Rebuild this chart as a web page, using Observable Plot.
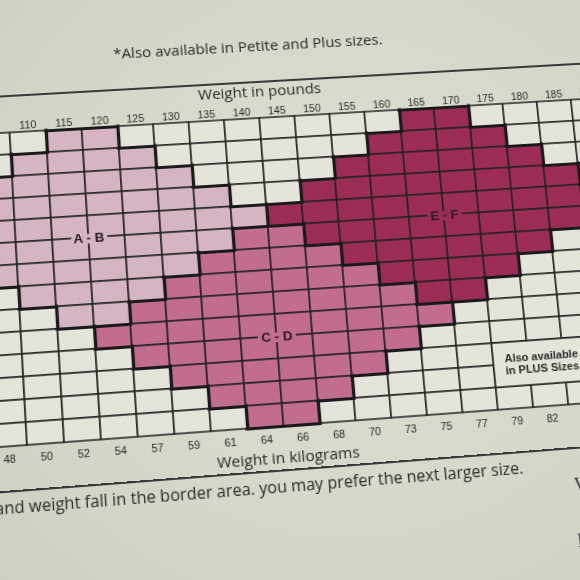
<!DOCTYPE html>
<html>
<head>
<meta charset="utf-8">
<script src="https://cdn.jsdelivr.net/npm/d3@7"></script>
<script src="https://cdn.jsdelivr.net/npm/@observablehq/plot@0.6"></script>
<style>
  html, body { margin: 0; padding: 0; background: #d8d7cb; }
  #stage { position: relative; width: 580px; height: 580px; overflow: hidden;
           background: radial-gradient(ellipse at 60% 45%, #e0dfd4 0%, #d7d6ca 60%, #cfcec2 100%); }
  #page { position: absolute; left: 0; top: 0; width: 700px; height: 600px; transform-origin: 0 0; }
  .txt { position: absolute; white-space: nowrap; color: #2a2a2a; font-family: "Open Sans", sans-serif; }
  .hline { position: absolute; left: -40px; width: 720px; height: 0; border-top: 2px solid #3a3a38; }
  #chart { position: absolute; left: -15px; top: 0; }
  .serif { font-family: "Liberation Serif", serif; color: #333; }
</style>
</head>
<body>
<div id="stage">
  <div id="page">
    <div class="txt" id="topnote" style="left:0;width:520px;text-align:center;top:33px;font-size:15px;line-height:20px;">*Also available in Petite and Plus sizes.</div>
    <div class="hline" style="top:80px;"></div>
    <div id="chart"></div>
    <div class="hline" style="top:468px;"></div>
    <div class="txt" id="caption" style="left:-300px;width:794px;text-align:right;top:473px;font-size:15.6px;line-height:22px;">If your height and weight fall in the border area. you may prefer the next larger size.</div>
    <div class="txt serif" style="left:543px;top:494px;font-size:19px;">W</div>
    <div class="txt serif" style="left:540px;top:548px;font-size:19px;">E</div>
  </div>
</div>
<script>
// ---- data ----
const pounds = [105, 110, 115, 120, 125, 130, 135, 140, 145, 150, 155, 160, 165, 170, 175, 180, 185, 190];
const poundLabels = [110, 115, 120, 125, 130, 135, 140, 145, 150, 155, 160, 165, 170, 175, 180, 185, 190];
const kilograms = [48, 50, 52, 54, 57, 59, 61, 64, 66, 68, 70, 73, 75, 77, 79, 82];
const rows = [1, 2, 3, 4, 5, 6, 7, 8, 9, 10, 11, 12, 13, 14];

const sizeNames = ["A - B", "C - D", "E - F"];
const abWeights = [105, 110, 115, 120, 125, 130, 135, 140];
const abFirst   = [3, 2, 1, 1, 2, 3, 4, 5];
const abLast    = [7, 8, 9, 9, 8, 7, 6, 5];
const cdWeights = [120, 125, 130, 135, 140, 145, 150, 155, 160, 165];
const cdFirst   = [10, 9, 8, 7, 6, 6, 7, 8, 9, 10];
const cdLast    = [10, 11, 12, 13, 14, 14, 13, 12, 11, 10];
const efWeights = [145, 150, 155, 160, 165, 170, 175, 180, 185, 190];
const efFirst   = [5, 4, 3, 2, 1, 1, 2, 3, 4, 5];
const efLast    = [5, 6, 7, 8, 9, 9, 8, 7, 6, 5];

const plusText = "Also available\nin PLUS Sizes";
const plusWeights = [175, 190];
const plusRows = [12, 13];

// ---- styles ----
const colors = {"A - B": "#d5b4c3", "C - D": "#c26d90", "E - F": "#9a2c56", none: "#e4e4da", plus: "#e4e4da"};
const ink = "#222222";

// ---- build cells ----
const sizes = [
  {name: sizeNames[0], weights: abWeights, first: abFirst, last: abLast},
  {name: sizeNames[1], weights: cdWeights, first: cdFirst, last: cdLast},
  {name: sizeNames[2], weights: efWeights, first: efFirst, last: efLast}
];
const catMap = new Map();
for (const s of sizes) {
  s.weights.forEach((w, i) => {
    for (let r = s.first[i]; r <= s.last[i]; r++) catMap.set(w + "|" + r, s.name);
  });
}
const isPlus = (w, r) => w >= plusWeights[0] && w <= plusWeights[1] && r >= plusRows[0] && r <= plusRows[1];
const cells = [];
for (const w of pounds) for (const r of rows) {
  cells.push({w, r, cat: catMap.get(w + "|" + r) || (isPlus(w, r) ? "plus" : "none")});
}
const catAt = (w, r) => catMap.get(w + "|" + r) || "none";

// thick boundaries wherever the size changes
const hSegs = [], vSegs = [];
for (const w of pounds) {
  for (let r = 0; r <= rows.length; r++) {
    const a = catAt(w, r), b = catAt(w, r + 1);
    if (a !== b) hSegs.push({w, y: r + 0.5});
  }
}
for (let i = 0; i < pounds.length - 1; i++) {
  for (const r of rows) {
    const a = catAt(pounds[i], r), b = catAt(pounds[i + 1], r);
    if (a !== b) vSegs.push({x: (pounds[i] + pounds[i + 1]) / 2, r});
  }
}

// size labels sit on the grid crossing just below each region's centre
const labels = sizes.map(s => {
  const spans = s.weights.map((w, i) => s.last[i] - s.first[i]);
  const m = d3.max(spans);
  const widest = s.weights.filter((w, i) => spans[i] === m);
  const i0 = spans.indexOf(m);
  return {name: s.name, x: d3.mean(widest), y: (s.first[i0] + s.last[i0]) / 2 + 0.5};
});

const half = (pounds[1] - pounds[0]) / 2;
const plusBox = [{x1: plusWeights[0] - half, x2: plusWeights[1] + half, y1: plusRows[0] - 0.5, y2: plusRows[1] + 0.5, text: plusText}];
const kgWeights = pounds.slice(0, kilograms.length);

const plot = Plot.plot({
  width: 630,
  height: 500,
  marginTop: 118,
  marginBottom: 74,
  marginLeft: 0,
  marginRight: 0,
  x: {domain: [pounds[0] - half, pounds[pounds.length - 1] + half], axis: null},
  y: {domain: [rows[0] - 0.5, rows[rows.length - 1] + 0.5], reverse: true, axis: null},
  style: {background: "transparent", fontFamily: "Liberation Sans, Arial, sans-serif", overflow: "visible", color: ink},
  marks: [
    Plot.rect(cells, {
      x1: d => d.w - half, x2: d => d.w + half, y1: d => d.r - 0.5, y2: d => d.r + 0.5,
      fill: d => colors[d.cat], stroke: ink, strokeWidth: 1.5
    }),
    Plot.rect(plusBox, {x1: "x1", x2: "x2", y1: "y1", y2: "y2", fill: colors.plus, stroke: ink, strokeWidth: 1.5}),
    Plot.ruleY(hSegs, {y: "y", x1: d => d.w - half, x2: d => d.w + half, stroke: "#1a1a1a", strokeWidth: 3.2, strokeLinecap: "square"}),
    Plot.ruleX(vSegs, {x: "x", y1: d => d.r - 0.5, y2: d => d.r + 0.5, stroke: "#1a1a1a", strokeWidth: 3.2, strokeLinecap: "square"}),
    Plot.text(labels, {
      x: "x", y: "y", text: "name", fill: "#2b1a20", stroke: d => colors[d.name], strokeWidth: 8,
      fontWeight: "bold", fontSize: 13, fontFamily: "Liberation Sans, Arial, sans-serif"
    }),
    Plot.text(plusBox, {
      x: "x1", y: d => (d.y1 + d.y2) / 2, text: "text", textAnchor: "start", dx: 11, lineAnchor: "middle",
      fontWeight: "bold", fontSize: 11, lineHeight: 1.1, fill: "#2a2a2a"
    }),
    Plot.axisX(poundLabels, {anchor: "top", tickSize: 0, tickPadding: 4, fontSize: 10.5, label: null, fill: "#2a2a2a"}),
    Plot.axisX(kgWeights, {anchor: "bottom", tickSize: 0, tickPadding: 8, fontSize: 10.5, label: null, fill: "#2a2a2a",
      tickFormat: d => kilograms[pounds.indexOf(d)]}),
    Plot.text(["Weight in pounds"], {text: d => d, frameAnchor: "top", dy: -27, dx: -33, lineAnchor: "middle",
      fontSize: 15, fontFamily: "Open Sans, sans-serif", fill: "#2a2a2a"}),
    Plot.text(["Weight in kilograms"], {text: d => d, frameAnchor: "bottom", dy: 31, dx: -33, lineAnchor: "middle",
      fontSize: 15, fontFamily: "Open Sans, sans-serif", fill: "#2a2a2a"})
  ]
});
document.getElementById("chart").appendChild(plot);

// ---- perspective of the photograph: map the grid rectangle onto the photographed quadrilateral ----
function homography(u0, v0, W, H, q) {
  const [p0, p1, p2, p3] = q;
  const dx1 = p1[0] - p2[0], dx2 = p3[0] - p2[0], dx3 = p0[0] - p1[0] + p2[0] - p3[0];
  const dy1 = p1[1] - p2[1], dy2 = p3[1] - p2[1], dy3 = p0[1] - p1[1] + p2[1] - p3[1];
  const den = dx1 * dy2 - dx2 * dy1;
  const g = (dx3 * dy2 - dx2 * dy3) / den;
  const h = (dx1 * dy3 - dx3 * dy1) / den;
  const a = p1[0] - p0[0] + g * p1[0], b = p3[0] - p0[0] + h * p3[0], c = p0[0];
  const d = p1[1] - p0[1] + g * p1[1], e = p3[1] - p0[1] + h * p3[1], f = p0[1];
  const A = a / W, B = b / H, C = c - a * u0 / W - b * v0 / H;
  const D = d / W, E = e / H, F = f - d * u0 / W - e * v0 / H;
  const G = g / W, Hh = h / H, I = 1 - g * u0 / W - h * v0 / H;
  return `matrix3d(${A},${D},0,${G},${B},${E},0,${Hh},0,0,1,0,${C},${F},0,${I})`;
}
// grid from the left edge of the 110 column to the left edge of the 185 column (design px: 20..545, 118..426)
document.getElementById("page").style.transform =
  homography(20, 118, 525, 308, [[9.6, 132.5], [536.7, 101.7], [568.3, 404.5], [27, 445]]);
</script>
</body>
</html>
